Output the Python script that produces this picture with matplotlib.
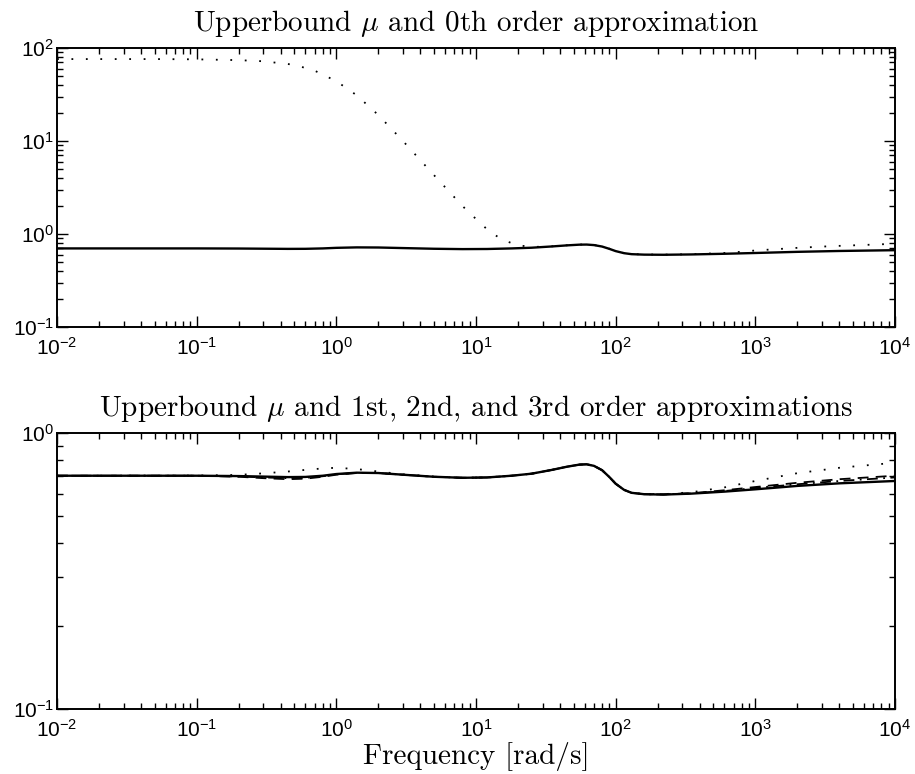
import numpy as np
import matplotlib.pyplot as plt
from matplotlib.ticker import LogLocator, FuncFormatter, NullFormatter

# sans digits for the tick labels, Computer Modern for titles/labels
plt.rcParams["mathtext.fontset"] = "custom"
plt.rcParams["mathtext.rm"] = "Liberation Sans"
plt.rcParams["mathtext.it"] = "Liberation Sans:italic"
plt.rcParams["mathtext.bf"] = "Liberation Sans:bold"
plt.rcParams["axes.formatter.use_mathtext"] = True

# frequency grid [rad/s] shared by the mu curve and the 1st-3rd order fits
w = [0.01, 0.03, 0.1, 0.2, 0.3, 0.45, 0.6, 0.8, 1.0, 1.4, 2, 3, 5, 8, 12, 18,
     25, 35, 45, 55, 62, 70, 80, 90, 100, 115, 130, 160, 220, 350, 600, 1000,
     2000, 4000, 10000]

mu_upper = [0.700, 0.700, 0.700, 0.698, 0.695, 0.692, 0.693, 0.700, 0.710,
            0.718, 0.716, 0.706, 0.694, 0.688, 0.690, 0.700, 0.712, 0.735,
            0.755, 0.768, 0.770, 0.760, 0.733, 0.693, 0.655, 0.622, 0.607,
            0.600, 0.598, 0.603, 0.613, 0.625, 0.643, 0.657, 0.670]

approx1 = [0.700, 0.700, 0.701, 0.705, 0.714, 0.725, 0.735, 0.744, 0.748,
           0.740, 0.725, 0.708, 0.695, 0.688, 0.690, 0.700, 0.712, 0.735,
           0.755, 0.768, 0.770, 0.760, 0.733, 0.693, 0.655, 0.622, 0.607,
           0.601, 0.600, 0.610, 0.635, 0.670, 0.715, 0.748, 0.780]

approx2 = [0.700, 0.700, 0.700, 0.694, 0.686, 0.680, 0.683, 0.694, 0.706,
           0.716, 0.716, 0.706, 0.694, 0.688, 0.690, 0.700, 0.712, 0.735,
           0.755, 0.768, 0.770, 0.760, 0.733, 0.693, 0.655, 0.622, 0.607,
           0.600, 0.599, 0.605, 0.620, 0.637, 0.660, 0.680, 0.700]

approx3 = [0.700, 0.700, 0.700, 0.696, 0.690, 0.686, 0.688, 0.697, 0.708,
           0.717, 0.716, 0.706, 0.694, 0.688, 0.690, 0.700, 0.712, 0.735,
           0.755, 0.768, 0.770, 0.760, 0.733, 0.693, 0.655, 0.622, 0.607,
           0.600, 0.599, 0.604, 0.616, 0.632, 0.652, 0.670, 0.690]

# 0th order approximation has its own grid (steep roll-off between 1 and 20)
w0 = [0.01, 0.05, 0.1, 0.2, 0.3, 0.5, 0.7, 1, 1.4, 2, 3, 5, 8, 10, 12.6, 14.4,
      16, 18.4, 21, 25, 35, 45, 55, 62, 70, 80, 90, 100, 115, 130, 160, 220,
      350, 600, 800, 1000, 2000, 3500, 10000]
approx0 = [76, 76, 75.5, 74, 72, 66, 57, 44, 31, 19, 10, 4.3, 2.0, 1.45, 1.05,
           0.93, 0.85, 0.79, 0.75, 0.725, 0.737, 0.757, 0.77, 0.772, 0.762,
           0.735, 0.695, 0.656, 0.623, 0.609, 0.602, 0.600, 0.606, 0.625,
           0.645, 0.665, 0.71, 0.74, 0.785]

titles = [r"Upperbound $\mu$ and 0th order approximation",
          r"Upperbound $\mu$ and 1st, 2nd, and 3rd order approximations"]

dotted = (0, (1.0, 7.0))


def pow10(v, pos):
    e = int(round(np.log10(v)))
    return r"$\mathrm{10^{%d}}$" % e


def style_axes(ax, ylim):
    ax.set_xscale("log")
    ax.set_yscale("log")
    ax.set_xlim(1e-2, 1e4)
    ax.set_ylim(*ylim)
    ax.xaxis.set_major_locator(LogLocator(base=10, numticks=10))
    ax.xaxis.set_minor_locator(LogLocator(base=10, subs=np.arange(2, 10), numticks=20))
    ax.yaxis.set_major_locator(LogLocator(base=10, numticks=10))
    ax.yaxis.set_minor_locator(LogLocator(base=10, subs=np.arange(2, 10), numticks=20))
    ax.xaxis.set_major_formatter(FuncFormatter(pow10))
    ax.yaxis.set_major_formatter(FuncFormatter(pow10))
    ax.xaxis.set_minor_formatter(NullFormatter())
    ax.yaxis.set_minor_formatter(NullFormatter())
    ax.tick_params(which="both", direction="in", top=True, right=True,
                   labelsize=15, width=1.0)
    ax.tick_params(which="major", length=8)
    ax.tick_params(which="minor", length=4)
    ax.tick_params(axis="x", which="major", pad=7)
    ax.tick_params(axis="y", which="major", pad=2)
    for s in ax.spines.values():
        s.set_linewidth(1.4)


fig = plt.figure(figsize=(9.15, 7.74), dpi=100)
ax1 = fig.add_axes([0.0623, 0.5775, 0.9158, 0.3605])
ax2 = fig.add_axes([0.0623, 0.0840, 0.9158, 0.3566])

ax1.plot(w, mu_upper, color="black", lw=1.7)
ax1.plot(w0, approx0, color="black", lw=1.3, linestyle=dotted)
style_axes(ax1, (0.1, 100))
ax1.set_title(titles[0], fontsize=21, fontfamily="cmr10", math_fontfamily="cm", pad=12)

ax2.plot(w, mu_upper, color="black", lw=1.7)
ax2.plot(w, approx1, color="black", lw=1.3, linestyle=dotted)
ax2.plot(w, approx2, color="black", lw=1.3, linestyle=(0, (6, 4)))
ax2.plot(w, approx3, color="black", lw=1.3, linestyle=(0, (6, 3, 1, 3)))
style_axes(ax2, (0.1, 1))
ax2.set_title(titles[1], fontsize=21, fontfamily="cmr10", math_fontfamily="cm", pad=12)
ax2.set_xlabel("Frequency [rad/s]", fontsize=21, fontfamily="cmr10", labelpad=1)

fig.savefig("out.png", dpi=100)
